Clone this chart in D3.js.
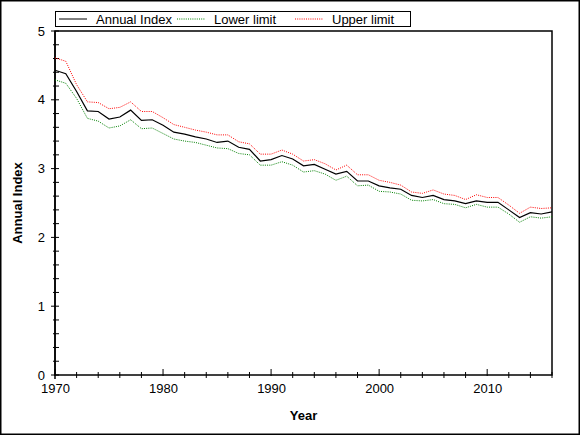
<!DOCTYPE html>
<html>
<meta charset="utf-8">
<head>
<title>annual index</title>
	<script src="https://d3js.org/d3.v7.min.js"></script>
	<style>
		body { margin:0; background:#fff; }
		text { font-family: Arial, "Liberation Sans", sans-serif; }
	</style>
</head>

<body>
	<div id = "plot"></div>
</body>

<script>

// values, 1970 - 2016
var years = d3.range(1970, 2017);

var annualIndex = [4.43, 4.38, 4.12, 3.84, 3.83, 3.72, 3.75, 3.85, 3.70, 3.71,
	3.63, 3.53, 3.50, 3.46, 3.43, 3.38, 3.40, 3.31, 3.28, 3.11,
	3.13, 3.19, 3.14, 3.04, 3.06, 2.99, 2.92, 2.96, 2.82, 2.82,
	2.75, 2.72, 2.70, 2.61, 2.58, 2.61, 2.55, 2.53, 2.49, 2.53,
	2.51, 2.51, 2.40, 2.29, 2.36, 2.34, 2.37];

var lowerLimit = [4.29, 4.24, 4.02, 3.73, 3.69, 3.59, 3.62, 3.71, 3.58, 3.59,
	3.51, 3.43, 3.40, 3.38, 3.34, 3.30, 3.29, 3.22, 3.20, 3.05,
	3.05, 3.10, 3.05, 2.95, 2.97, 2.92, 2.83, 2.89, 2.75, 2.76,
	2.67, 2.66, 2.63, 2.54, 2.53, 2.55, 2.49, 2.48, 2.43, 2.48,
	2.44, 2.44, 2.34, 2.22, 2.30, 2.28, 2.30];

var upperLimit = [4.61, 4.56, 4.22, 3.97, 3.96, 3.87, 3.89, 3.97, 3.83, 3.83,
	3.74, 3.64, 3.60, 3.56, 3.53, 3.49, 3.49, 3.39, 3.36, 3.21,
	3.21, 3.27, 3.21, 3.11, 3.13, 3.07, 2.98, 3.05, 2.91, 2.91,
	2.83, 2.80, 2.76, 2.66, 2.64, 2.69, 2.63, 2.61, 2.55, 2.62,
	2.58, 2.58, 2.47, 2.35, 2.44, 2.42, 2.43];

var xTicks = [1970, 1980, 1990, 2000, 2010];
var yTicks = [0, 1, 2, 3, 4, 5];

var series = [
	{ name:"Annual Index", values:annualIndex, color:"#000000", dash:null, width:1.2 },
	{ name:"Lower limit", values:lowerLimit, color:"#008000", dash:"1,1.2", width:1 },
	{ name:"Upper limit", values:upperLimit, color:"#ff0000", dash:"1,1.2", width:1 }
];

var W = 580, H = 435;
var margin = { top: 31, right: 28, bottom: 60, left: 55 };
var width = W - margin.left - margin.right;
var height = H - margin.top - margin.bottom;

var xScale = d3.scaleLinear()
				.domain([1970, 2016])
				.range([0, width]);

var yScale = d3.scaleLinear()
				.domain([0, 5])
				.range([height, 0]);

var svg = d3.select("#plot").append("svg")
		.attr("width", W)
		.attr("height", H);

// outer frame
svg.append("rect")
.attr("x", 0.75).attr("y", 0.75)
.attr("width", W - 1.5).attr("height", H - 1.5)
.attr("fill", "none")
.attr("stroke", "black")
.attr("stroke-width", 1.5);

var g = svg.append("g")
.attr("transform", "translate(" + margin.left + "," + margin.top + ")");

// plot frame
g.append("rect")
.attr("x", 0).attr("y", 0)
.attr("width", width).attr("height", height)
.attr("fill", "none")
.attr("stroke", "black")
.attr("stroke-width", 1.5);

// x axis
var xAxis = d3.axisBottom(xScale).tickValues(xTicks).tickFormat(d3.format("d")).tickSize(0).tickPadding(9);
var gx = g.append("g")
.attr("class","x axis")
.attr("transform", "translate(0," + height + ")")
.call(xAxis);
gx.select(".domain").remove();
gx.selectAll("text").attr("font-size", 13).attr("fill", "black");

// major x ticks point up into the plot
g.append("g").selectAll("line")
.data(xTicks)
.enter().append("line")
.attr("x1", function(d){ return xScale(d); })
.attr("x2", function(d){ return xScale(d); })
.attr("y1", height - 6)
.attr("y2", height + 1)
.attr("stroke", "black");

// minor x ticks every 2 years
g.append("g").selectAll("line")
.data(d3.range(1972, 2017, 2).filter(function(d){ return d % 10 != 0; }))
.enter().append("line")
.attr("x1", function(d){ return xScale(d); })
.attr("x2", function(d){ return xScale(d); })
.attr("y1", height - 3)
.attr("y2", height + 3)
.attr("stroke", "black");

// y axis
var yAxis = d3.axisLeft(yScale).tickValues(yTicks).tickFormat(d3.format("d")).tickSize(0).tickPadding(10);
var gy = g.append("g")
.attr("class","y axis")
.call(yAxis);
gy.select(".domain").remove();
gy.selectAll("text").attr("font-size", 13).attr("fill", "black");

g.append("line")
.attr("x1", 0).attr("x2", 0)
.attr("y1", 0).attr("y2", height + 4)
.attr("stroke", "black").attr("stroke-width", 1.5);

g.append("g").selectAll("line")
.data(yTicks)
.enter().append("line")
.attr("x1", -4)
.attr("x2", 4)
.attr("y1", function(d){ return yScale(d); })
.attr("y2", function(d){ return yScale(d); })
.attr("stroke", "black");

g.append("g").selectAll("line")
.data(d3.range(0, 5, 0.2).filter(function(d, i){ return i % 5 != 0; }))
.enter().append("line")
.attr("x1", -2)
.attr("x2", 4)
.attr("y1", function(d){ return yScale(d); })
.attr("y2", function(d){ return yScale(d); })
.attr("stroke", "black");

// axis titles
svg.append("text")
.attr("x", margin.left + width / 2)
.attr("y", 420)
.attr("text-anchor", "middle")
.attr("font-size", 13)
.attr("font-weight", "bold")
.text("Year");

svg.append("text")
.attr("transform", "translate(22," + (margin.top + yScale(2.5)) + ") rotate(-90)")
.attr("text-anchor", "middle")
.attr("font-size", 13)
.attr("font-weight", "bold")
.text("Annual Index");

// lines
var line = d3.line()
.x(function(d, i){ return xScale(years[i]); })
.y(function(d){ return yScale(d); });

var clip = g.append("clipPath").attr("id", "clip")
.append("rect").attr("width", width + 1).attr("height", height);

g.append("g")
.attr("clip-path", "url(#clip)")
.selectAll("path")
.data(series.slice().reverse())
.enter().append("path")
.attr("d", function(d){ return line(d.values); })
.attr("fill", "none")
.attr("stroke", function(d){ return d.color; })
.attr("stroke-width", function(d){ return d.width; })
.attr("stroke-dasharray", function(d){ return d.dash; });

// legend
var legend = svg.append("g");
legend.append("rect")
.attr("x", 55.5).attr("y", 11.5)
.attr("width", 355).attr("height", 15)
.attr("fill", "white")
.attr("stroke", "black");

var legendX = [59, 177, 295];
var item = legend.selectAll(".item")
.data(series)
.enter().append("g")
.attr("class", "item")
.attr("transform", function(d, i){ return "translate(" + legendX[i] + ",19)"; });

item.append("line")
.attr("x1", 0).attr("x2", 28)
.attr("y1", 0).attr("y2", 0)
.attr("stroke", function(d){ return d.color; })
.attr("stroke-width", 1)
.attr("stroke-dasharray", function(d){ return d.dash; });

item.append("text")
.attr("x", 37)
.attr("y", 4.5)
.attr("font-size", 13)
.text(function(d){ return d.name; });

</script>
</html>
